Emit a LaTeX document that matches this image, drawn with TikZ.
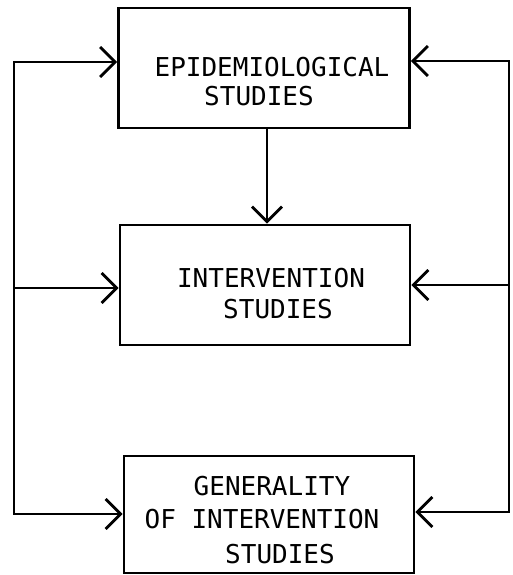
\documentclass[tikz,border=0pt]{standalone}
\usepackage{fontspec}
\newfontfamily\typew{DejaVu Sans Mono}
\usetikzlibrary{arrows.meta}
\tikzset{
  box/.style={draw, line width=2.8pt, rectangle, inner sep=0pt},
  lbl/.style={anchor=base, inner sep=0pt, font=\typew\fontsize{26}{30}\selectfont},
  wire/.style={line width=2.8pt},
  arr/.style={line width=2.8pt, -{Straight Barb[length=15pt, width=30pt, line width=2.8pt]}}
}
\begin{document}
\begin{tikzpicture}[x=1pt,y=-1pt]
\useasboundingbox (0,0) rectangle (512,575);
% boxes
\node[box, minimum width=291pt, minimum height=120pt] (b1) at (264,68) {};
\node[box, minimum width=290pt, minimum height=120pt] (b2) at (265,285) {};
\node[box, minimum width=290pt, minimum height=117pt] (b3) at (269,514.5) {};
% texts
\node[lbl] (t1a) at (272,77) {EPIDEMIOLOGICAL};
\node[lbl] (t1b) at (259,106) {STUDIES};
\node[lbl] (t2a) at (271,287) {INTERVENTION};
\node[lbl] (t2b) at (278,318) {STUDIES};
\node[lbl] (t3a) at (272,495) {GENERALITY};
\node[lbl] (t3b) at (262,528) {OF INTERVENTION};
\node[lbl] (t3c) at (280,563) {STUDIES};
% feedback lines
\coordinate (L1) at (14,62);
\coordinate (L2) at (14,288);
\coordinate (L3) at (14,514);
\coordinate (R1) at (509,61);
\coordinate (R2) at (509,285);
\coordinate (R3) at (509,512);
\draw[wire, line cap=rect] (L1) -- (L3);
\draw[wire, line cap=rect] (R1) -- (R3);
\draw[arr] (L1) -- (L1 -| b1.west);
\draw[arr] (L2) -- (L2 -| b2.west);
\draw[arr] (L3) -- (L3 -| b3.west);
\draw[arr] (R1) -- (R1 -| b1.east);
\draw[arr] (R2) -- (R2 -| b2.east);
\draw[arr] (R3) -- (R3 -| b3.east);
% main flow
\draw[arr] (b1.south) ++(3,0) coordinate (m1) -- (m1 |- b2.north);
\end{tikzpicture}
\end{document}
